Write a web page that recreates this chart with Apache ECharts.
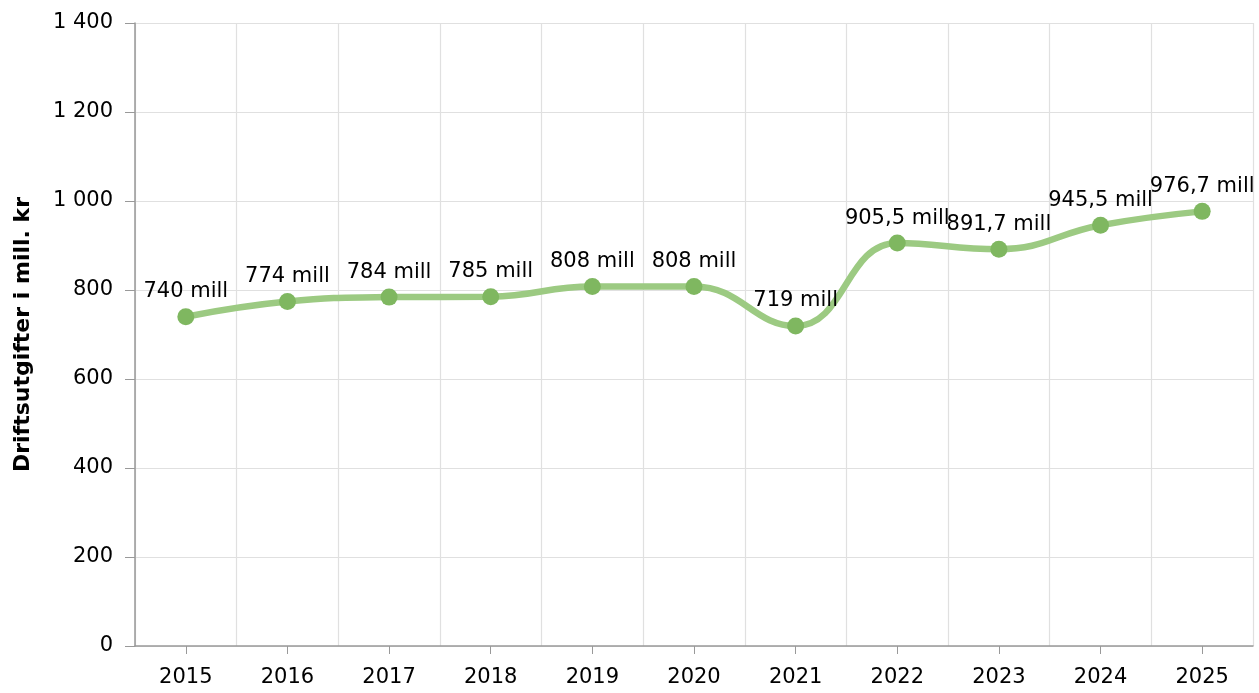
<!DOCTYPE html>
<html>
<head>
<meta charset="utf-8">
<script src="https://cdn.jsdelivr.net/npm/echarts@6/dist/echarts.min.js"></script>
<style>
  html, body { margin: 0; padding: 0; background: #fff; }
  #chart { width: 1259px; height: 693px; }
</style>
</head>
<body>
<div id="chart"></div>
<script>
const years = ['2015', '2016', '2017', '2018', '2019', '2020', '2021', '2022', '2023', '2024', '2025'];
const expenses = [740, 774, 784, 785, 808, 808, 719, 905.5, 891.7, 945.5, 976.7];
const yTicks = { min: 0, max: 1400, interval: 200 };

const font = 'DejaVu Sans, Verdana, sans-serif';

function fmtThousands(v) {
    return String(v).replace(/\B(?=(\d{3})+(?!\d))/g, ' ');
}

let chart = echarts.init(document.getElementById('chart'));
chart.setOption({
    animation: false,
    textStyle: { fontFamily: font },
    grid: { left: 135, right: 6, top: 23, bottom: 47, containLabel: false },
    xAxis: {
        type: 'category',
        data: years,
        boundaryGap: true,
        axisLine: { lineStyle: { color: '#999', width: 1.5 } },
        axisTick: { show: true, alignWithLabel: true, length: 8, lineStyle: { color: '#999' } },
        axisLabel: { color: '#000', fontSize: 21, margin: 21, fontFamily: font },
        splitLine: { show: true, lineStyle: { color: '#e0e0e0', width: 1.2 } }
    },
    yAxis: {
        type: 'value',
        min: yTicks.min,
        max: yTicks.max,
        interval: yTicks.interval,
        name: 'Driftsutgifter i mill. kr',
        nameLocation: 'middle',
        nameGap: 101,
        nameTextStyle: { color: '#000', fontSize: 22, fontWeight: 'bold', fontFamily: font },
        axisLine: { show: true, lineStyle: { color: '#999', width: 1.5 } },
        axisTick: { show: true, length: 10, lineStyle: { color: '#999' } },
        axisLabel: { color: '#000', fontSize: 21, margin: 22, fontFamily: font, formatter: fmtThousands },
        splitLine: { show: true, lineStyle: { color: '#e0e0e0', width: 1.2 } }
    },
    series: [{
        type: 'line',
        data: expenses,
        smooth: 0.45,
        symbol: 'circle',
        symbolSize: 17,
        lineStyle: { color: '#9cca82', width: 6.5 },
        itemStyle: { color: '#7fb760' },
        label: {
            show: true,
            position: 'top',
            distance: 6,
            color: '#000',
            fontSize: 21,
            fontFamily: font,
            formatter: p => String(p.value).replace('.', ',') + ' mill'
        },
        z: 3
    }]
});
</script>
</body>
</html>
